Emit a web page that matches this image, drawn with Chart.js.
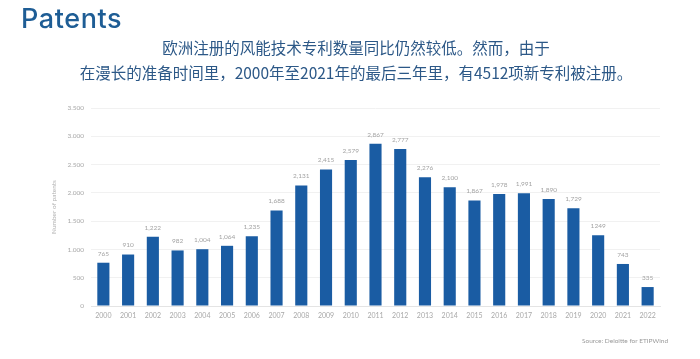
<!DOCTYPE html>
<html lang="zh">
<head>
    <meta charset="UTF-8">
    <title>Patents</title>
    <script src="https://cdn.jsdelivr.net/npm/chart.js"></script>
    <style>
        html, body { margin: 0; padding: 0; background: #fff; }
        #wrap { position: relative; width: 700px; height: 359px; overflow: hidden; }
        #chart { position: absolute; left: 0; top: 0; }
        .heading { position: absolute; left: 21px; top: 2px; font-family: "Inter", sans-serif; font-weight: 500;
                   font-size: 27px; color: #1e5d95; letter-spacing: 0.6px; }
        .sub { position: absolute; left: 0; width: 712px; text-align: center; font-family: "Noto Sans CJK SC", sans-serif;
               font-size: 15.5px; color: #2c5887; }
        .source { position: absolute; left: 582px; top: 337px; font-family: "Lato", sans-serif; font-size: 6.5px; color: #9a9a9a; }
    </style>
</head>
<body>
<div id="wrap">
    <canvas id="chart" width="700" height="359"></canvas>
    <div class="heading">Patents</div>
    <div class="sub" style="top: 36px;">欧洲注册的风能技术专利数量同比仍然较低。然而，由于</div>
    <div class="sub" style="top: 61px;">在漫长的准备时间里，2000年至2021年的最后三年里，有4512项新专利被注册。</div>
    <div class="source">Source: Deloitte for ETIPWind</div>
</div>

<script>
    // data
    const years = ['2000','2001','2002','2003','2004','2005','2006','2007','2008','2009','2010','2011',
                   '2012','2013','2014','2015','2016','2017','2018','2019','2020','2021','2022'];
    const patents = [765, 910, 1222, 982, 1004, 1064, 1235, 1688, 2131, 2415, 2579, 2867,
                     2777, 2276, 2100, 1867, 1978, 1991, 1890, 1729, 1249, 743, 335];
    const valueLabels = ['765','910','1,222','982','1,004','1,064','1,235','1,688','2,131','2,415','2,579','2,867',
                         '2,777','2,276','2,100','1,867','1,978','1,991','1,890','1,729','1249','743','335'];
    const yTicks = { 0: '0', 500: '500', 1000: '1.000', 1500: '1.500', 2000: '2.000', 2500: '2.500', 3000: '3.000', 3500: '3.500' };

    // small labels above each bar
    const barLabels = {
        id: 'barLabels',
        afterDatasetsDraw(chart) {
            const ctx = chart.ctx;
            const meta = chart.getDatasetMeta(0);
            ctx.save();
            ctx.font = '6.5px Lato, sans-serif';
            ctx.fillStyle = '#a3a3a3';
            ctx.textAlign = 'center';
            ctx.textBaseline = 'bottom';
            meta.data.forEach((bar, i) => {
                ctx.fillText(valueLabels[i], bar.x, bar.y - 6);
            });
            ctx.restore();
        }
    };

    new Chart(document.getElementById('chart'), {
        type: 'bar',
        data: {
            labels: years,
            datasets: [{
                data: patents,
                backgroundColor: '#1a5ca3',
                barPercentage: 0.49,
                categoryPercentage: 1.0
            }]
        },
        options: {
            responsive: false,
            animation: false,
            layout: { padding: { left: 50, right: 40, top: 108, bottom: 0 } },
            plugins: { legend: { display: false }, tooltip: { enabled: false } },
            scales: {
                x: {
                    grid: { display: false, drawTicks: false },
                    border: { display: true, color: '#e4e4e4' },
                    ticks: { color: '#a8a8a8', font: { family: 'Lato', size: 7 }, padding: 6, maxRotation: 0 },
                    afterFit: s => { s.height = 53; }
                },
                y: {
                    min: 0, max: 3500,
                    grid: { color: '#f1f1f1', drawTicks: false },
                    border: { display: false },
                    ticks: {
                        stepSize: 500, color: '#a8a8a8', font: { family: 'Lato', size: 6.5 }, padding: 7,
                        callback: v => yTicks[v]
                    },
                    title: { display: true, text: 'Number of patents', color: '#b0b0b0',
                             font: { family: 'Lato', size: 6.5 }, padding: 0 },
                    afterFit: s => { s.width = 41; }
                }
            }
        },
        plugins: [barLabels]
    });
</script>
</body>
</html>
